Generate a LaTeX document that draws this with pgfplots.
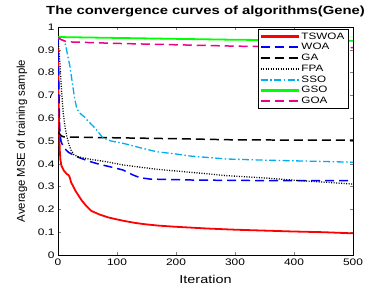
\documentclass[border=0pt]{standalone}
\usepackage{pgfplots}
\pgfplotsset{compat=1.18}
\usepackage{fontspec}
\setmainfont[FakeStretch=1.26]{Liberation Sans}
\newfontfamily\ylabfont{Liberation Sans}
\begin{document}
\begin{tikzpicture}
\path (-58bp,-38bp) rectangle (318bp,255bp);
\begin{axis}[
  at={(0,0)}, anchor=origin,
  scale only axis, width=295bp, height=228bp,
  xmin=0, xmax=500, ymin=0, ymax=1,
  xtick={0,100,...,500},
  ytick={0,0.1,...,1},
  yticklabels={0,0.1,0.2,0.3,0.4,0.5,0.6,0.7,0.8,0.9,1},
  /pgf/number format/assume math mode=true,
  tick align=inside, tick pos=both,
  major tick length=3bp,
  tick label style={font=\fontsize{9.5}{10}\selectfont},
  xlabel={Iteration}, ylabel={Average MSE of training sample},
  xlabel style={font=\fontsize{11.5}{12}\selectfont, at={(axis description cs:0.5,-0.123)}, anchor=base},
  ylabel style={font=\ylabfont\fontsize{11.4}{12}\selectfont, at={(axis description cs:-0.122,0.5)}, anchor=center},
  title={\bfseries The convergence curves of algorithms(Gene)},
  title style={font=\fontsize{11.8}{12}\selectfont, at={(axis description cs:0.5,1.029)}, anchor=base},
  legend style={font=\fontsize{9.3}{10}\selectfont, inner xsep=1.5bp, inner ysep=1bp, row sep=-1.2bp,
    at={(0.983,0.9892)}, anchor=north east},
  legend cell align=left,
  legend image code/.code={\draw[#1] (0bp,-0.35bp) -- (38bp,-0.35bp); \draw[#1] (0bp,0.35bp) -- (38bp,0.35bp);},
]
\addplot[red, line width=1.8pt] coordinates {(0,0.95)(1,0.7)(2,0.55)(3,0.46)(4,0.42)(6,0.39)(10,0.37)(15,0.355)(18,0.35)(20,0.34)(22,0.32)(26,0.30)(30,0.28)(35,0.26)(40,0.24)(48,0.215)(56,0.194)(70,0.178)(85,0.165)(100,0.156)(113,0.149)(130,0.141)(147,0.135)(170,0.129)(198,0.124)(254,0.116)(300,0.111)(350,0.107)(400,0.103)(450,0.1)(480,0.097)(500,0.095)};
\addlegendentry{TSWOA}
\addplot[blue, line width=1.5pt, dash pattern=on 9bp off 5bp] coordinates {(0,0.95)(1,0.8)(2,0.65)(3,0.55)(5,0.5)(8,0.48)(12,0.465)(18,0.45)(25,0.44)(35,0.428)(54,0.41)(70,0.398)(88,0.387)(110,0.373)(120,0.36)(127,0.351)(139,0.339)(156,0.333)(224,0.329)(300,0.327)(400,0.326)(500,0.326)};
\addlegendentry{WOA}
\addplot[black, line width=1.5pt, dash pattern=on 9bp off 5bp] coordinates {(0,0.54)(3,0.53)(6,0.522)(10,0.518)(50,0.516)(100,0.514)(200,0.51)(300,0.505)(400,0.504)(500,0.504)};
\addlegendentry{GA}
\addplot[black, line width=1.3pt, dash pattern=on 1bp off 1.5bp] coordinates {(0,0.95)(3,0.85)(6,0.72)(9,0.62)(12,0.56)(15,0.52)(18,0.49)(22,0.46)(27,0.44)(35,0.43)(54,0.42)(80,0.41)(110,0.395)(140,0.385)(167,0.376)(224,0.363)(286,0.348)(350,0.338)(410,0.326)(460,0.318)(500,0.311)};
\addlegendentry{FPA}
\addplot[cyan, line width=1.3pt, dash pattern=on 7bp off 2.5bp on 1.5bp off 2.5bp] coordinates {(0,0.95)(5,0.945)(10,0.94)(13,0.92)(16,0.88)(20,0.83)(24,0.76)(28,0.69)(32,0.64)(38,0.62)(45,0.605)(50,0.59)(54,0.58)(65,0.55)(76,0.514)(90,0.50)(110,0.49)(140,0.47)(167,0.453)(200,0.443)(224,0.434)(286,0.421)(350,0.416)(420,0.412)(500,0.407)};
\addlegendentry{SSO}
\addplot[green, line width=1.8pt] coordinates {(0,0.956)(50,0.954)(100,0.952)(200,0.948)(300,0.944)(400,0.942)(500,0.94)};
\addlegendentry{GSO}
\addplot[magenta, line width=1.5pt, dash pattern=on 9bp off 5bp] coordinates {(0,0.955)(5,0.945)(15,0.935)(50,0.932)(100,0.928)(200,0.922)(300,0.916)(400,0.912)(500,0.91)};
\addlegendentry{GOA}
\end{axis}
\end{tikzpicture}
\end{document}
